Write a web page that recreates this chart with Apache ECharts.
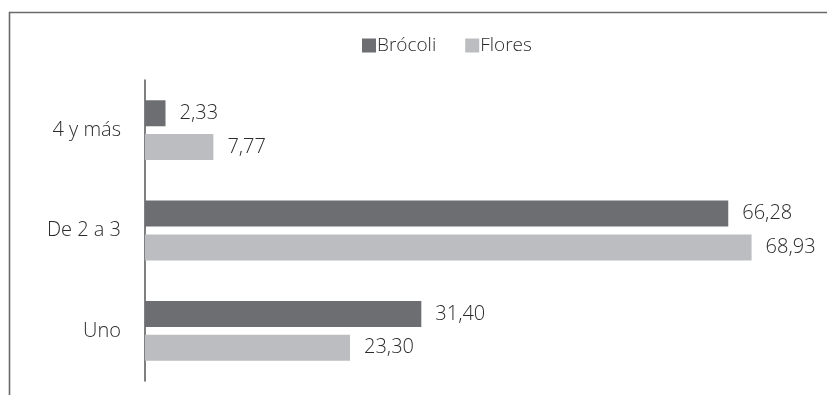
<!DOCTYPE html>
<html>
<head>
<meta charset="utf-8">
<script src="https://cdn.jsdelivr.net/npm/echarts@6/dist/echarts.min.js"></script>
<style>
  html, body { margin: 0; padding: 0; background: #fff; }
  #chart { width: 827px; height: 395px; }
</style>
</head>
<body>
<div id="chart"></div>
<script>
// Number of items per household, share (%) by product
const categories = ['4 y más', 'De 2 a 3', 'Uno'];
const brocoli = [2.33, 66.28, 31.40];
const flores = [7.77, 68.93, 23.30];

const FONT = '"Open Sans", "Noto Sans", sans-serif';
const fmt = p => p.value.toFixed(2).replace('.', ',');

const chart = echarts.init(document.getElementById('chart'), null, { renderer: 'canvas' });

const valueLabel = {
  show: true, position: 'right', distance: 14, formatter: fmt,
  fontFamily: FONT, fontSize: 20, fontWeight: 300, color: '#2b2b2b'
};

chart.setOption({
  animation: false,
  backgroundColor: '#ffffff',
  graphic: [{
    type: 'polyline',
    shape: { points: [[9.5, 400], [9.5, 12.5], [830, 12.5]] },
    style: { stroke: '#6a6a6a', lineWidth: 1.6, fill: null }
  }],
  legend: {
    top: 36,
    left: 362,
    padding: 0,
    itemWidth: 14,
    itemHeight: 14,
    itemGap: 29,
    icon: 'rect',
    textStyle: { fontFamily: FONT, fontSize: 19, fontWeight: 300, color: '#2b2b2b', padding: [0, 0, 0, -4] },
    data: ['Brócoli', 'Flores']
  },
  grid: { left: 145, right: 22, top: 80, bottom: 14 },
  xAxis: {
    type: 'value',
    min: 0,
    max: 75,
    show: false
  },
  yAxis: {
    type: 'category',
    inverse: true,
    data: categories,
    axisLine: { show: true, lineStyle: { color: '#555', width: 1.5 } },
    axisTick: { show: false },
    axisLabel: { fontFamily: FONT, fontSize: 20, fontWeight: 300, color: '#2b2b2b', margin: 24 }
  },
  series: [
    {
      name: 'Brócoli',
      type: 'bar',
      data: brocoli,
      barWidth: 26,
      barGap: '30%',
      itemStyle: { color: '#6d6e71' },
      label: valueLabel
    },
    {
      name: 'Flores',
      type: 'bar',
      data: flores,
      barWidth: 26,
      itemStyle: { color: '#bcbdc0' },
      label: valueLabel
    }
  ]
});
</script>
</body>
</html>
